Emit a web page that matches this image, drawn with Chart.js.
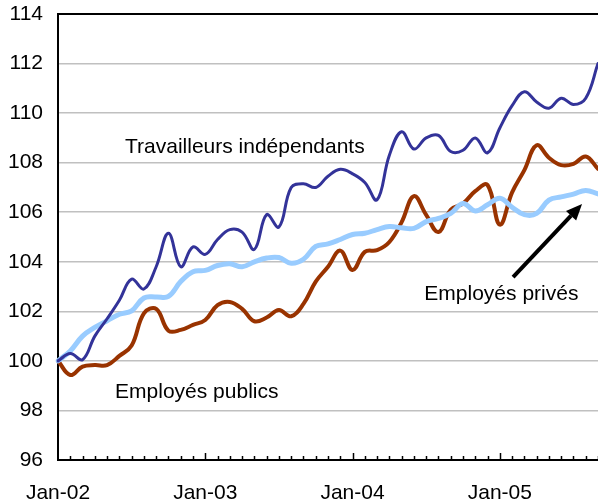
<!DOCTYPE html>
<html><head><meta charset="utf-8">
<script src="https://cdn.jsdelivr.net/npm/chart.js@4"></script>
<style>html,body{margin:0;padding:0;background:#fff}#w{width:598px;height:500px;position:relative}</style>
</head><body><div id="w"><canvas id="c"></canvas></div>
<script>
// Categories: monthly, Jan-02 .. Sep-05
const months = [
 "Jan-02","Feb-02","Mar-02","Apr-02","May-02","Jun-02","Jul-02","Aug-02","Sep-02","Oct-02","Nov-02","Dec-02",
 "Jan-03","Feb-03","Mar-03","Apr-03","May-03","Jun-03","Jul-03","Aug-03","Sep-03","Oct-03","Nov-03","Dec-03",
 "Jan-04","Feb-04","Mar-04","Apr-04","May-04","Jun-04","Jul-04","Aug-04","Sep-04","Oct-04","Nov-04","Dec-04",
 "Jan-05","Feb-05","Mar-05","Apr-05","May-05","Jun-05","Jul-05","Aug-05","Sep-05"
];
// Series (index, base 100 = Jan-02)
const travailleursIndependants = [
 100.0,100.3,100.05,101.0,101.7,102.45,103.3,102.9,103.8,105.15,103.8,104.6,
 104.3,104.9,105.3,105.2,104.5,105.9,105.4,107.0,107.15,107.0,107.45,107.73,
 107.55,107.2,106.5,108.3,109.25,108.55,109.0,109.1,108.45,108.5,109.0,108.4,
 109.4,110.3,110.86,110.45,110.2,110.6,110.35,110.6,112.0
];
const employesPublics = [
 100.0,99.43,99.77,99.83,99.83,100.2,100.62,101.92,102.1,101.22,101.25,101.45,
 101.65,102.25,102.38,102.1,101.6,101.75,102.05,101.8,102.3,103.2,103.8,104.45,
 103.67,104.4,104.47,104.8,105.6,106.65,105.89,105.2,106.1,106.35,106.85,107.1,
 105.5,106.8,107.7,108.7,108.2,107.9,107.95,108.25,107.75
];
const employesPrives = [
 100.0,100.4,101.0,101.35,101.62,101.88,102.02,102.54,102.58,102.6,103.2,103.6,
 103.65,103.85,103.92,103.8,104.0,104.15,104.17,103.94,104.1,104.62,104.72,104.9,
 105.1,105.15,105.3,105.42,105.37,105.35,105.62,105.75,105.95,106.35,106.05,106.3,
 106.56,106.2,105.9,105.95,106.49,106.62,106.73,106.88,106.74
];
const yTicks = [96,98,100,102,104,106,108,110,112,114];
const seriesNames = ["Travailleurs indépendants","Employés publics","Employés privés"];

const FONT = '"Liberation Sans", Arial, sans-serif';

const annot = {
  id: 'annot',
  afterDatasetsDraw(chart) {
    const {ctx, scales:{x, y}} = chart;
    ctx.save();
    ctx.font = '21px ' + FONT;
    ctx.fillStyle = '#000';
    ctx.textAlign = 'left';
    ctx.textBaseline = 'alphabetic';
    ctx.fillText(seriesNames[0], x.getPixelForValue(5.46), y.getPixelForValue(108.39));
    ctx.fillText(seriesNames[1], x.getPixelForValue(4.65), y.getPixelForValue(98.5));
    ctx.fillText(seriesNames[2], x.getPixelForValue(29.85), y.getPixelForValue(102.46));
    // arrow
    const x0 = x.getPixelForValue(37.08), y0 = y.getPixelForValue(103.38);
    const x1 = x.getPixelForValue(42.7), y1 = y.getPixelForValue(106.33);
    const ang = Math.atan2(y1 - y0, x1 - x0);
    const hl = 16, hw = 7;
    const bx = x1 - hl * Math.cos(ang), by = y1 - hl * Math.sin(ang);
    ctx.strokeStyle = '#000';
    ctx.lineWidth = 4;
    ctx.beginPath(); ctx.moveTo(x0, y0); ctx.lineTo(bx, by); ctx.stroke();
    ctx.beginPath();
    ctx.moveTo(x1, y1);
    ctx.lineTo(bx + hw * Math.sin(ang), by - hw * Math.cos(ang));
    ctx.lineTo(bx - hw * Math.sin(ang), by + hw * Math.cos(ang));
    ctx.closePath(); ctx.fill();
    // x tick marks (inside, pointing up)
    const bottom = chart.chartArea.bottom;
    ctx.lineWidth = 1.5;
    for (let i = 1; i < months.length; i++) {
      const px = Math.round(x.getPixelForValue(i)) + 0.5;
      const len = months[i].startsWith('Jan') ? 7 : 4;
      ctx.beginPath(); ctx.moveTo(px, bottom); ctx.lineTo(px, bottom - len); ctx.stroke();
    }
    ctx.restore();
  }
};

new Chart(document.getElementById('c'), {
  type: 'line',
  data: {
    labels: months,
    datasets: [
      {label: seriesNames[0], data: travailleursIndependants, borderColor: '#333399', borderWidth: 3, order: 0},
      {label: seriesNames[2], data: employesPrives, borderColor: '#99CCFF', borderWidth: 5, order: 1},
      {label: seriesNames[1], data: employesPublics, borderColor: '#993300', borderWidth: 4, order: 2}
    ]
  },
  options: {
    responsive: true,
    maintainAspectRatio: false,
    animation: false,
    devicePixelRatio: 1,
    elements: {point: {radius: 0}, line: {tension: 0.4, fill: false, borderCapStyle: 'round', borderJoinStyle: 'round'}},
    layout: {padding: {top: 14, right: 0, left: 0, bottom: 0}},
    plugins: {legend: {display: false}, tooltip: {enabled: false}},
    scales: {
      x: {
        type: 'category',
        offset: false,
        grid: {display: false},
        border: {display: true, color: '#000', width: 2},
        ticks: {
          autoSkip: false, maxRotation: 0, minRotation: 0, padding: 13,
          color: '#000', font: {size: 21, family: FONT},
          callback: function(v, i) { const l = months[i]; return l.startsWith('Jan') ? l : ''; }
        },
        afterFit(s) { s.height = 40; s.paddingRight = 0; s.paddingLeft = 0; }
      },
      y: {
        min: 96, max: 114,
        afterBuildTicks(s) { s.ticks = yTicks.map(v => ({value: v})); },
        grid: {
          drawTicks: false, tickLength: 0,
          color: c => c.tick && c.tick.value === 114 ? '#000' : '#c0c0c0',
          lineWidth: c => c.tick && c.tick.value === 114 ? 2 : 1.5
        },
        border: {display: true, color: '#000', width: 2},
        ticks: {padding: 15, color: '#000', font: {size: 21, family: FONT}},
        afterFit(s) { s.width = 58; s.paddingTop = 0; s.paddingBottom = 0; }
      }
    }
  },
  plugins: [annot]
});
</script>
</body></html>
